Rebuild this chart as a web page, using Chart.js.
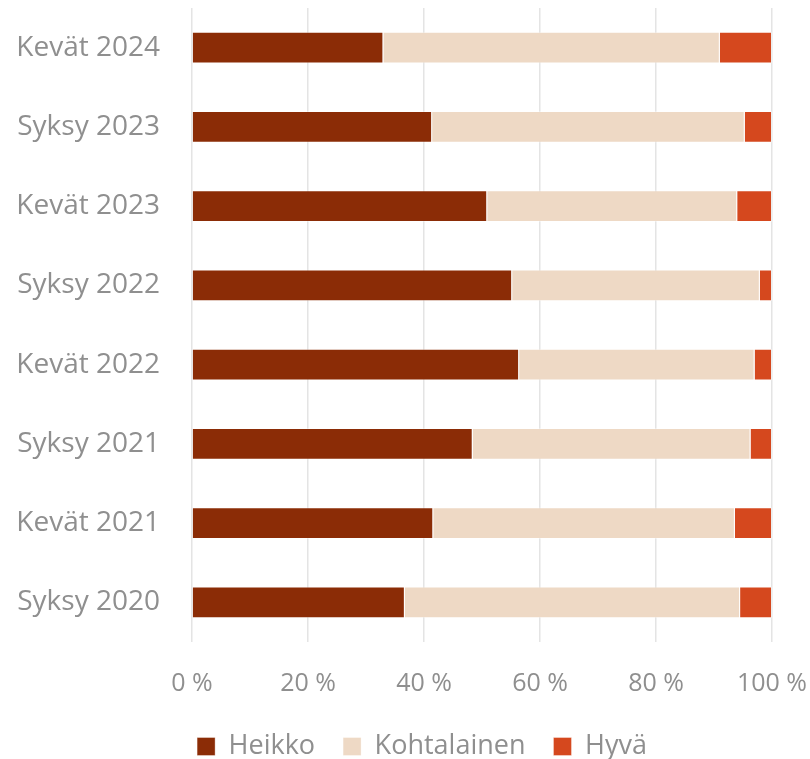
<!DOCTYPE html>
<html>
<head>
<meta charset="utf-8">
<script src="https://cdn.jsdelivr.net/npm/chart.js@4.4.1/dist/chart.umd.min.js"></script>
<style>
  html, body { margin: 0; padding: 0; background: #fff; }
  #wrap { width: 810px; height: 759px; }
</style>
</head>
<body>
<div id="wrap"><canvas id="bar-chart" width="810" height="759"></canvas></div>
<script>
const categories = ['Kevät 2024', 'Syksy 2023', 'Kevät 2023', 'Syksy 2022', 'Kevät 2022', 'Syksy 2021', 'Kevät 2021', 'Syksy 2020'];
const heikko = [33, 41.4, 50.9, 55.2, 56.4, 48.4, 41.6, 36.7];
const kohtalainen = [58, 53.9, 43.1, 42.7, 40.6, 47.9, 52, 57.8];
const hyva = [9, 4.7, 6, 2.1, 3, 3.7, 6.4, 5.5];
const xTicks = [0, 20, 40, 60, 80, 100];

const gray = '#8f8f8f';
const fontFamily = '"Open Sans", sans-serif';

function bars(label, values, color) {
  return {
    label: label,
    data: values,
    backgroundColor: color,
    borderColor: 'rgba(255,255,255,0.35)',
    borderWidth: 1,
    barPercentage: 0.8,
    categoryPercentage: 0.5
  };
}

// nudge the legend lower and a bit right, like in the original
const legendShift = {
  id: 'legendShift',
  afterLayout(chart) {
    const lg = chart.legend;
    lg.top += 11;
    lg.bottom += 11;
    lg.left += 36;
    lg.right += 36;
  }
};

const barChart = document.getElementById('bar-chart');

new Chart(barChart, {
  type: 'bar',
  data: {
    labels: categories,
    datasets: [
      bars('Heikko', heikko, '#8b2c06'),
      bars('Kohtalainen', kohtalainen, '#eed9c5'),
      bars('Hyvä', hyva, '#d5481e')
    ]
  },
  options: {
    indexAxis: 'y',
    responsive: false,
    animation: false,
    layout: { padding: { top: 8, right: 38, left: 0, bottom: 0 } },
    scales: {
      x: {
        stacked: true,
        min: 0,
        max: 100,
        afterBuildTicks(scale) {
          scale.ticks = xTicks.map(v => ({ value: v }));
        },
        afterFit(scale) {
          scale.height = 52;
          scale.paddingLeft = 0;
          scale.paddingRight = 0;
        },
        border: { display: false },
        grid: { color: '#e4e4e4', lineWidth: 1.5, drawTicks: false },
        ticks: {
          padding: 27,
          color: gray,
          font: { family: fontFamily, size: 25 },
          callback: v => v + ' %'
        }
      },
      y: {
        stacked: true,
        afterFit(scale) {
          scale.width = 192;
          scale.paddingTop = 0;
          scale.paddingBottom = 0;
        },
        border: { display: false },
        grid: { display: false, drawTicks: false },
        ticks: {
          padding: 32,
          color: gray,
          font: { family: fontFamily, size: 28 }
        }
      }
    },
    plugins: {
      legend: {
        position: 'bottom',
        labels: {
          boxWidth: 18,
          boxHeight: 18,
          padding: 28,
          color: gray,
          font: { family: fontFamily, size: 27 }
        }
      },
      tooltip: { enabled: false }
    }
  },
  plugins: [legendShift]
});
</script>
</body>
</html>
